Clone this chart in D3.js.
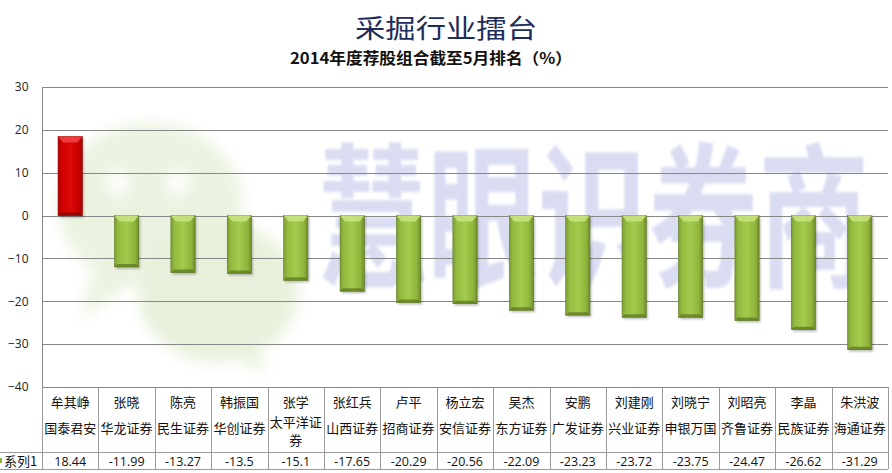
<!DOCTYPE html>
<html><head><meta charset="utf-8">
<script src="https://cdn.jsdelivr.net/npm/d3@7/dist/d3.min.js"></script>
<style>
html,body{margin:0;padding:0;background:#fff;}
svg{display:block;font-family:"Noto Sans CJK SC","Noto Sans",sans-serif;}
</style></head>
<body>
<svg id="c" width="892" height="473"></svg>
<script>
const names = ["牟其峥","张晓","陈亮","韩振国","张学","张红兵","卢平","杨立宏","吴杰","安鹏","刘建刚","刘晓宁","刘昭亮","李晶","朱洪波"];
const brokers = ["国泰君安","华龙证券","民生证券","华创证券","太平洋证券","山西证券","招商证券","安信证券","东方证券","广发证券","兴业证券","申银万国","齐鲁证券","民族证券","海通证券"];
const values = [18.44,-11.99,-13.27,-13.5,-15.1,-17.65,-20.29,-20.56,-22.09,-23.23,-23.72,-23.75,-24.47,-26.62,-31.29];
const yTicks = [30,20,10,0,-10,-20,-30,-40];
const seriesName = "系列1";
const title = "采掘行业擂台";
const subtitle = "2014年度荐股组合截至5月排名（%）";
const watermark = "慧眼识券商";

const svg = d3.select("#c");
const L = 42, R = 888, T = 87, B = 387;
const x = d3.scaleBand().domain(d3.range(names.length)).range([L, R]);
const y = d3.scaleLinear().domain([-40, 30]).range([B, T]);

const defs = svg.append("defs");
function grad(id, stops){
  const g = defs.append("linearGradient").attr("id", id).attr("x1","0").attr("x2","1").attr("y1","0").attr("y2","0");
  stops.forEach(s => g.append("stop").attr("offset", s[0]).attr("stop-color", s[1]));
}
grad("gGreen", [[0,"#7d9c35"],[0.15,"#93bb40"],[0.5,"#a3cb4c"],[0.85,"#8fb43c"],[1,"#6c8a2a"]]);
grad("gRed", [[0,"#b50000"],[0.15,"#cf0000"],[0.5,"#dc0a0a"],[0.85,"#c80000"],[1,"#a00000"]]);
const blur = defs.append("filter").attr("id","blur").attr("x","-20%").attr("y","-20%").attr("width","140%").attr("height","140%");
blur.append("feGaussianBlur").attr("stdDeviation", 7);
const sh = defs.append("filter").attr("id","sh").attr("x","-30%").attr("y","-30%").attr("width","160%").attr("height","160%");
sh.append("feGaussianBlur").attr("stdDeviation", 1.2);

// watermark: wechat bubbles
const wm = svg.append("g").attr("filter","url(#blur)").attr("opacity",0.45);
wm.append("ellipse").attr("cx",150).attr("cy",205).attr("rx",92).attr("ry",82).attr("fill","#d3e4bb");
wm.append("path").attr("d","M95,270 L80,318 L130,285 Z").attr("fill","#d3e4bb");
wm.append("ellipse").attr("cx",218).attr("cy",292).attr("rx",80).attr("ry",70).attr("fill","#cde0b2");
wm.append("path").attr("d","M250,345 L268,372 L225,355 Z").attr("fill","#cde0b2");
wm.append("circle").attr("cx",118).attr("cy",183).attr("r",12).attr("fill","#fff");
wm.append("circle").attr("cx",178).attr("cy",183).attr("r",12).attr("fill","#fff");

// watermark text
svg.append("g").attr("transform","translate(593,290) scale(1,1.22)")
  .append("text").attr("x", 0).attr("y", -12).attr("text-anchor","middle")
  .attr("font-size", 128).attr("font-weight", 700).attr("fill", "#d4d8f0").attr("opacity", 0.85)
  .attr("textLength", 552).attr("lengthAdjust","spacingAndGlyphs")
  .attr("filter","url(#sh)")
  .text(watermark);

// gridlines
svg.append("g").selectAll("line").data(yTicks).join("line")
  .attr("x1", L).attr("x2", R).attr("y1", d => Math.round(y(d))+0.5).attr("y2", d => Math.round(y(d))+0.5)
  .attr("stroke", "#878787").attr("stroke-width", 1);

// y axis
const ya = svg.append("g").attr("transform", `translate(${L+0.5},0)`)
  .call(d3.axisLeft(y).tickValues(yTicks).tickSize(0).tickPadding(14));
ya.select(".domain").attr("stroke","#878787").attr("d", `M0,${T}V469`);
ya.selectAll("text").attr("font-size", 12).attr("fill", "#222").attr("font-family","'Open Sans','Noto Sans',sans-serif");

// bars
const bw = x.bandwidth() * 0.43;
const bars = svg.append("g").selectAll("g").data(values).join("g")
  .attr("transform", (d,i) => `translate(${x(i) + x.bandwidth()/2 - bw/2},0)`);
bars.append("rect").attr("x", 1.5).attr("y", d => Math.min(y(d), y(0)) + 2).attr("width", bw).attr("height", d => Math.abs(y(d) - y(0)))
  .attr("fill", "#000").attr("opacity", 0.25).attr("filter","url(#sh)");
bars.append("rect").attr("x", 0).attr("y", d => Math.min(y(d), y(0))).attr("width", bw).attr("height", d => Math.abs(y(d) - y(0)))
  .attr("fill", d => d >= 0 ? "url(#gRed)" : "url(#gGreen)")
  .attr("stroke", d => d >= 0 ? "#8a0000" : "#5f7a24").attr("stroke-width", 0.6);
bars.append("path").attr("d", d => {
  const t = Math.min(y(d), y(0));
  return `M0,${t} L${bw},${t} L${bw-5},${t+6} L5,${t+6} Z`;
}).attr("fill", d => d >= 0 ? "#f04040" : "#c6e37c").attr("opacity", 0.9);
bars.append("path").attr("d", d => {
  const b = Math.max(y(d), y(0));
  return `M0,${b} L${bw},${b} L${bw-3},${b-3} L3,${b-3} Z`;
}).attr("fill", d => d >= 0 ? "#7a0000" : "#5a7420").attr("opacity", 0.7);

// table
const tb = svg.append("g");
const lineC = "#9a9a9a";
tb.append("line").attr("x1", 0).attr("x2", R).attr("y1", 452.5).attr("y2", 452.5).attr("stroke", lineC);
tb.append("line").attr("x1", 0).attr("x2", R).attr("y1", 469.5).attr("y2", 469.5).attr("stroke", lineC);
tb.selectAll(".v").data(d3.range(names.length + 1)).join("line")
  .attr("x1", i => Math.round(i < names.length ? x(i) : R) + 0.5).attr("x2", i => Math.round(i < names.length ? x(i) : R) + 0.5)
  .attr("y1", B).attr("y2", 469).attr("stroke", lineC);

const cx = i => x(i) + x.bandwidth()/2;
tb.selectAll(".n").data(names).join("text").attr("x", (d,i) => cx(i)).attr("y", 407)
  .attr("text-anchor","middle").attr("font-size", 13).attr("fill", "#111").text(d => d);
tb.selectAll(".b").data(brokers).join("text")
  .attr("x", (d,i) => cx(i)).attr("text-anchor","middle").attr("font-size", 13).attr("fill", "#111")
  .each(function(d,i){
    const t = d3.select(this);
    if (d.length > 4) {
      t.append("tspan").attr("x", cx(i)).attr("y", 427).text(d.slice(0,4));
      t.append("tspan").attr("x", cx(i)).attr("y", 445).text(d.slice(4));
    } else {
      t.attr("y", 433).text(d);
    }
  });
tb.selectAll(".val").data(values).join("text").attr("x", (d,i) => cx(i)).attr("y", 466)
  .attr("text-anchor","middle").attr("font-size", 12.5).attr("fill", "#111")
  .attr("font-family","'Open Sans','Noto Sans',sans-serif").text(d => d);
tb.append("rect").attr("x", -2).attr("y", 458).attr("width", 4).attr("height", 5).attr("fill", "#8db43c");
tb.append("text").attr("x", 4).attr("y", 466).attr("font-size", 13).attr("fill", "#111").text(seriesName);

// titles
svg.append("text").attr("x", 446).attr("y", 38).attr("text-anchor","middle")
  .attr("font-size", 26).attr("fill", "#1f2d5c").attr("font-family","'Noto Sans CJK SC',sans-serif")
  .attr("textLength", 182).attr("lengthAdjust","spacingAndGlyphs").text(title);
svg.append("text").attr("x", 431).attr("y", 64).attr("text-anchor","middle")
  .attr("font-size", 15.5).attr("font-weight", 700).attr("fill", "#111")
  .attr("textLength", 282).attr("lengthAdjust","spacingAndGlyphs").text(subtitle);
</script>
</body></html>
